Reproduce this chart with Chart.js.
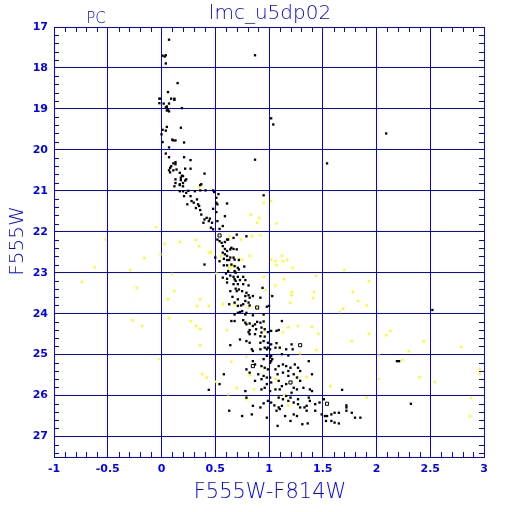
<!DOCTYPE html>
<html lang="en">
<head>
<meta charset="utf-8">
<title>lmc_u5dp02</title>
<script src="https://cdn.jsdelivr.net/npm/chart.js"></script>
<style>
  html, body { margin: 0; padding: 0; background: #fff; }
  canvas { display: block; }
</style>
</head>
<body>
<canvas id="cmd" width="512" height="512"></canvas>
<script>
const chartTitle = 'lmc_u5dp02';
const cornerLabel = 'PC';
const xAxisLabel = 'F555W-F814W';
const yAxisLabel = 'F555W';
const xTickValues = [-1, -0.5, 0, 0.5, 1, 1.5, 2, 2.5, 3];
const yTickValues = [17, 18, 19, 20, 21, 22, 23, 24, 25, 26, 27];

// [colour F555W-F814W, magnitude F555W]
const blackStars = [
  [0.07,17.31],[0.01,17.70],[0.03,17.72],[0.04,17.69],[0.04,17.89],[0.87,17.69],
  [0.15,18.37],[0.06,18.59],[-0.02,18.75],[-0.01,18.75],[0.09,18.75],[0.12,18.75],[0.12,18.78],
  [-0.02,18.86],[0.02,18.87],[0.07,18.87],[0.05,18.94],[0.04,18.96],[0.05,18.98],[0.06,19.02],
  [0.05,19.04],[0.07,19.06],[0.19,18.98],[1.02,19.23],[1.04,19.38],
  [0.05,19.44],[0.18,19.46],[0.01,19.51],[0.04,19.53],[0.00,19.62],[0.10,19.75],[0.11,19.77],
  [0.13,19.77],[0.01,19.81],[0.21,19.82],[0.07,19.94],[2.09,19.60],
  [0.04,20.09],[0.07,20.18],[0.21,20.18],[0.27,20.25],[0.87,20.24],[1.54,20.33],
  [0.11,20.33],[0.13,20.30],[0.13,20.35],[0.09,20.40],[0.08,20.44],[0.22,20.46],[0.27,20.46],
  [0.07,20.50],[0.11,20.50],[0.14,20.48],[0.08,20.55],[0.17,20.56],[0.19,20.63],[0.20,20.64],
  [0.18,20.68],[0.40,20.58],[0.13,20.72],[0.18,20.74],[0.22,20.75],[0.23,20.72],[0.13,20.81],
  [0.17,20.84],[0.20,20.81],[0.12,20.89],[0.17,20.86],[0.20,20.89],[0.37,20.84],[0.36,20.86],
  [0.17,21.01],[0.20,21.01],[0.25,21.00],[0.31,21.01],[0.36,20.99],[0.41,20.99],[0.48,20.99],
  [0.49,21.03],[0.53,21.08],[0.51,21.17],
  [0.21,21.13],[0.23,21.05],[0.27,21.13],[0.28,21.25],[0.24,21.33],[0.30,21.29],[0.33,21.21],
  [0.34,21.33],[0.32,21.42],[0.35,21.37],[0.36,21.47],[0.37,21.58],[0.39,21.78],[0.40,21.70],
  [0.42,21.66],[0.44,21.74],[0.45,21.68],[0.47,21.78],[0.46,21.90],[0.48,21.94],[0.51,21.29],
  [0.52,21.33],[0.48,21.44],[0.51,21.52],[0.52,21.74],[0.54,21.93],[0.61,21.31],[0.59,21.62],
  [0.57,21.86],[0.95,21.11],
  [0.52,22.19],[0.54,22.23],[0.56,22.27],[0.59,22.25],[0.61,22.19],[0.62,22.19],[0.67,22.15],
  [0.70,22.07],[0.79,22.11],[0.57,22.35],[0.59,22.42],[0.61,22.47],[0.64,22.43],[0.65,22.39],
  [0.67,22.42],[0.70,22.43],[0.57,22.51],[0.59,22.55],[0.61,22.59],[0.64,22.63],[0.58,22.66],
  [0.61,22.69],[0.63,22.69],[0.67,22.63],[0.68,22.68],[0.72,22.69],[0.50,22.63],[0.54,22.72],
  [0.40,22.80],[0.58,22.82],[0.61,22.82],[0.65,22.80],[0.68,22.84],[0.71,22.88],[0.72,22.92],
  [0.77,22.85],[0.62,22.96],[0.68,22.96],[0.69,23.00],[0.60,23.02],[0.64,23.07],[0.67,23.10],
  [0.71,23.10],[0.57,23.12],[0.61,23.15],[0.68,23.16],[0.69,23.20],[0.76,23.10],[0.73,23.18],
  [0.78,23.18],[0.67,23.28],[0.71,23.28],[0.76,23.28],[0.81,23.31],[0.61,23.24],[0.69,23.39],
  [0.72,23.41],[0.64,23.45],[0.70,23.45],[0.75,23.45],[0.79,23.49],[0.81,23.55],[0.78,23.57],
  [0.82,23.61],[0.85,23.57],[0.66,23.59],[0.71,23.65],[0.94,23.37],[0.92,23.61],[1.03,23.57],
  [0.63,23.77],[0.68,23.73],[0.71,23.81],[0.74,23.80],[0.76,23.77],[0.78,23.69],[0.81,23.73],
  [0.82,23.80],[0.98,23.83],[1.00,23.81],
  [0.73,23.96],[0.75,23.94],[0.71,23.98],[0.68,24.02],[0.78,24.02],[0.79,23.98],[0.85,24.04],
  [0.95,24.02],[0.65,24.18],[0.68,24.18],[0.76,24.16],[0.78,24.22],[0.79,24.26],[0.82,24.24],
  [0.87,24.26],[0.89,24.20],[0.92,24.22],[0.95,24.19],[0.85,24.30],[0.82,24.40],[0.88,24.38],
  [0.93,24.34],[0.96,24.38],[0.99,24.45],[1.02,24.42],[1.07,24.42],[1.09,24.40],[1.12,24.18],
  [0.87,24.50],[0.82,24.50],[0.81,24.45],[0.92,24.55],[0.93,24.46],[0.96,24.56],
  [0.73,24.63],[0.79,24.67],[0.82,24.71],[0.92,24.71],[0.95,24.67],[0.99,24.71],[1.02,24.75],
  [1.01,24.87],[1.07,24.72],[0.99,24.83],[0.96,24.83],[0.84,24.87],[0.85,24.91],[0.92,24.87],
  [0.98,24.87],[1.06,24.83],[1.10,24.83],[1.16,24.87],[1.21,24.75],[1.22,24.87],[0.64,24.77],
  [1.02,25.03],[1.01,25.07],[1.03,25.11],[1.02,25.16],[1.01,25.20],[0.98,25.03],[0.95,25.11],
  [0.85,25.16],[0.87,25.24],[0.93,25.28],[0.96,25.32],[0.99,25.36],[1.06,25.36],[1.09,25.28],
  [1.13,25.24],[1.16,25.28],[1.20,25.32],[1.24,25.24],[1.27,25.32],[1.29,25.40],[1.37,25.16],
  [1.12,24.99],[1.18,25.02],
  [0.79,25.36],[0.82,25.44],[0.90,25.48],[0.95,25.52],[0.98,25.56],[1.01,25.56],[1.08,25.48],
  [1.13,25.44],[1.18,25.40],[1.23,25.48],[1.26,25.56],[1.29,25.64],[1.40,25.48],[1.18,25.52],
  [0.87,25.64],[0.93,25.60],[0.98,25.72],[1.02,25.68],[1.09,25.64],[1.12,25.77],[1.16,25.72],
  [1.23,25.81],[1.26,25.85],[1.32,25.81],[1.38,25.85],[1.40,25.89],[1.10,25.85],[1.06,25.85],
  [1.01,25.89],[0.96,25.81],[0.93,25.85],[0.78,25.89],[0.58,25.48],[0.54,25.72],[0.44,25.86],
  [1.68,25.86],
  [1.21,25.93],[1.20,26.05],[1.27,26.09],[1.37,26.05],[1.09,26.05],[1.13,26.09],[1.16,26.01],
  [1.18,26.13],[1.23,26.17],[1.27,26.21],[1.29,26.29],[1.33,26.29],[1.35,26.25],[1.38,26.13],
  [1.43,26.21],[1.47,26.17],[1.51,26.09],[0.79,26.05],[0.99,26.13],[0.95,26.19],[1.02,26.17],
  [1.05,26.24],[1.09,26.29],[1.12,26.25],[1.07,26.37],[1.10,26.33],[1.15,26.50],[1.23,26.46],
  [1.26,26.50],[1.35,26.37],[1.43,26.37],[1.49,26.46],[1.52,26.50],[1.54,26.50],[1.58,26.46],
  [1.61,26.42],[1.65,26.42],[1.72,26.24],[1.72,26.29],[1.72,26.37],[1.77,26.42],[1.80,26.54],
  [1.85,26.54],[1.53,26.62],[1.58,26.62],[1.61,26.66],[1.65,26.68],[1.31,26.70],[1.36,26.68],
  [1.20,26.62],[1.08,26.74],[0.98,26.54],[0.84,26.46],[0.75,26.50],[0.63,26.37],[0.85,26.25],
  [0.92,26.29],
  [2.52,23.91],[2.19,25.16],[2.21,25.16],[2.32,26.20]
];

const openStars = [
  [0.54,22.09],[0.89,23.85],[1.29,24.77],[0.85,25.28],[1.20,25.68],[1.54,26.20]
];

const yellowStars = [
  [0.35,20.91],
  [-0.05,21.89],[-0.52,22.19],[0.03,22.29],[0.17,22.25],[0.32,22.20],[0.35,22.35],[-0.01,22.55],
  [-0.16,22.64],[-0.62,22.87],[-0.29,22.94],[0.10,23.03],[-0.74,23.22],[-0.23,23.37],[0.12,23.45],
  [0.06,23.65],[0.33,23.81],[0.36,23.65],[-0.27,24.16],[-0.18,24.30],[0.07,24.11],[0.27,24.18],
  [0.32,24.30],[0.36,24.37],[0.36,24.77],[-0.02,25.11],
  [0.63,22.11],[0.74,22.19],[0.84,22.11],[0.92,22.09],[0.83,21.58],[0.91,21.66],[0.89,21.78],
  [0.95,21.29],[1.02,21.25],[1.07,21.80],[0.82,22.59],[0.75,22.68],[0.72,22.66],[0.55,22.59],
  [0.67,22.82],[0.65,22.85],[0.63,22.88],[1.02,22.68],[1.07,22.82],[1.06,22.72],[1.12,22.59],
  [1.13,22.72],[1.17,22.69],[1.22,22.88],[0.95,23.10],[1.14,23.16],[1.06,23.31],[0.97,23.42],
  [1.02,23.55],[1.21,23.47],[1.21,23.55],[1.20,23.73],[0.51,23.02],[0.44,22.51],[0.46,22.50],
  [0.44,23.81],[0.57,23.77],[0.68,23.77],[0.71,23.81],[0.81,23.85],[0.89,23.88],
  [0.85,24.29],[0.61,24.40],[0.96,24.42],[1.13,24.46],[1.18,24.33],[1.27,24.30],[1.40,24.32],
  [1.46,24.49],[1.69,23.88],[1.66,23.96],[1.91,23.80],[1.83,23.69],[1.93,24.49],[1.77,24.67],
  [1.44,24.89],[1.29,24.97],[1.10,24.83],[2.02,25.02],[0.79,25.05],[0.65,25.17],[0.38,25.48],
  [0.42,25.56],[0.50,25.66],[0.82,25.50],[0.98,25.34],[1.06,25.60],[1.27,25.55],[1.35,25.55],
  [1.57,25.77],[2.02,25.60],[0.70,25.81],[0.86,25.85],[1.14,25.99],[0.62,25.97],[0.79,26.09],
  [1.91,26.05],[1.18,26.24],
  [1.44,23.07],[1.70,22.94],[1.93,23.21],[1.42,23.47],[1.41,23.62],[1.78,23.47],[2.13,24.42],
  [2.09,24.53],[2.44,24.68],[2.79,24.81],[2.30,24.92],[2.24,25.13],[2.96,25.36],[2.96,25.47],
  [2.40,25.55],[2.54,25.67],[2.88,26.06],[2.87,26.50]
];

const blue = '#0000ff';
const toPoints = arr => arr.map(p => ({ x: p[0], y: p[1] }));

// little inward ticks on all four sides
const minorTicks = {
  id: 'minorTicks',
  beforeDatasetsDraw(chart) {
    const { ctx, chartArea: a, scales: { x, y } } = chart;
    ctx.save();
    ctx.strokeStyle = blue;
    ctx.lineWidth = 1;
    ctx.beginPath();
    for (let i = -10; i <= 30; i++) {
      if (i % 5 === 0) continue;
      const px = Math.round(x.getPixelForValue(i / 10)) + 0.5;
      ctx.moveTo(px, a.top); ctx.lineTo(px, a.top + 5);
      ctx.moveTo(px, a.bottom); ctx.lineTo(px, a.bottom - 5);
    }
    for (let k = 1; k <= 52; k++) {
      if (k % 5 === 0) continue;
      const py = Math.round(y.getPixelForValue(17 + k * 0.2)) + 0.5;
      ctx.moveTo(a.left, py); ctx.lineTo(a.left + 5, py);
      ctx.moveTo(a.right, py); ctx.lineTo(a.right - 5, py);
    }
    ctx.stroke();
    ctx.restore();
  }
};

const labels = {
  id: 'labels',
  afterDraw(chart) {
    const { ctx } = chart;
    ctx.save();
    ctx.fillStyle = blue;
    ctx.textAlign = 'center';
    ctx.textBaseline = 'alphabetic';
    ctx.font = '200 20px "DejaVu Sans", sans-serif';
    ctx.fillText(chartTitle, 270, 19);
    ctx.font = '200 15px "DejaVu Sans", sans-serif';
    ctx.fillText(cornerLabel, 96, 23);
    ctx.font = '200 21px "DejaVu Sans", sans-serif';
    ctx.fillText(xAxisLabel, 270, 498);
    ctx.translate(23, 241);
    ctx.rotate(-Math.PI / 2);
    ctx.font = '200 20px "DejaVu Sans", sans-serif';
    ctx.fillText(yAxisLabel, 0, 0);
    ctx.restore();
  }
};

new Chart(document.getElementById('cmd'), {
  type: 'scatter',
  data: {
    datasets: [
      {
        label: 'stars',
        data: toPoints(blackStars),
        pointStyle: 'rect',
        pointRadius: 1.65,
        backgroundColor: '#000',
        borderWidth: 0
      },
      {
        label: 'open',
        data: toPoints(openStars),
        pointStyle: 'rect',
        pointRadius: 2.2,
        backgroundColor: 'rgba(0,0,0,0)',
        borderColor: '#000',
        borderWidth: 1
      },
      {
        label: 'field',
        data: toPoints(yellowStars),
        pointStyle: 'rect',
        pointRadius: 1.65,
        backgroundColor: '#ffff00',
        borderWidth: 0
      }
    ]
  },
  options: {
    responsive: false,
    animation: false,
    events: [],
    layout: { padding: { top: 27, right: 28, left: 0, bottom: 0 } },
    plugins: { legend: { display: false }, tooltip: { enabled: false }, title: { display: false } },
    scales: {
      x: {
        type: 'linear',
        min: -1,
        max: 3,
        afterBuildTicks: s => { s.ticks = xTickValues.map(v => ({ value: v })); },
        afterFit: s => { s.height = 55; },
        grid: { color: blue, lineWidth: 1, drawTicks: false },
        border: { display: true, color: blue, width: 1 },
        ticks: {
          color: blue,
          padding: 6,
          maxRotation: 0,
          font: { family: '"DejaVu Sans"', size: 11, weight: 'bold' },
          callback: v => String(v)
        }
      },
      y: {
        type: 'linear',
        reverse: true,
        min: 17,
        max: 27.5,
        afterBuildTicks: s => { s.ticks = yTickValues.map(v => ({ value: v })); },
        afterFit: s => { s.width = 54; },
        grid: { color: blue, lineWidth: 1, drawTicks: false },
        border: { display: true, color: blue, width: 1 },
        ticks: {
          color: blue,
          padding: 6,
          font: { family: '"DejaVu Sans"', size: 11, weight: 'bold' },
          callback: v => String(v)
        }
      }
    }
  },
  plugins: [minorTicks, labels]
});
</script>
</body>
</html>
